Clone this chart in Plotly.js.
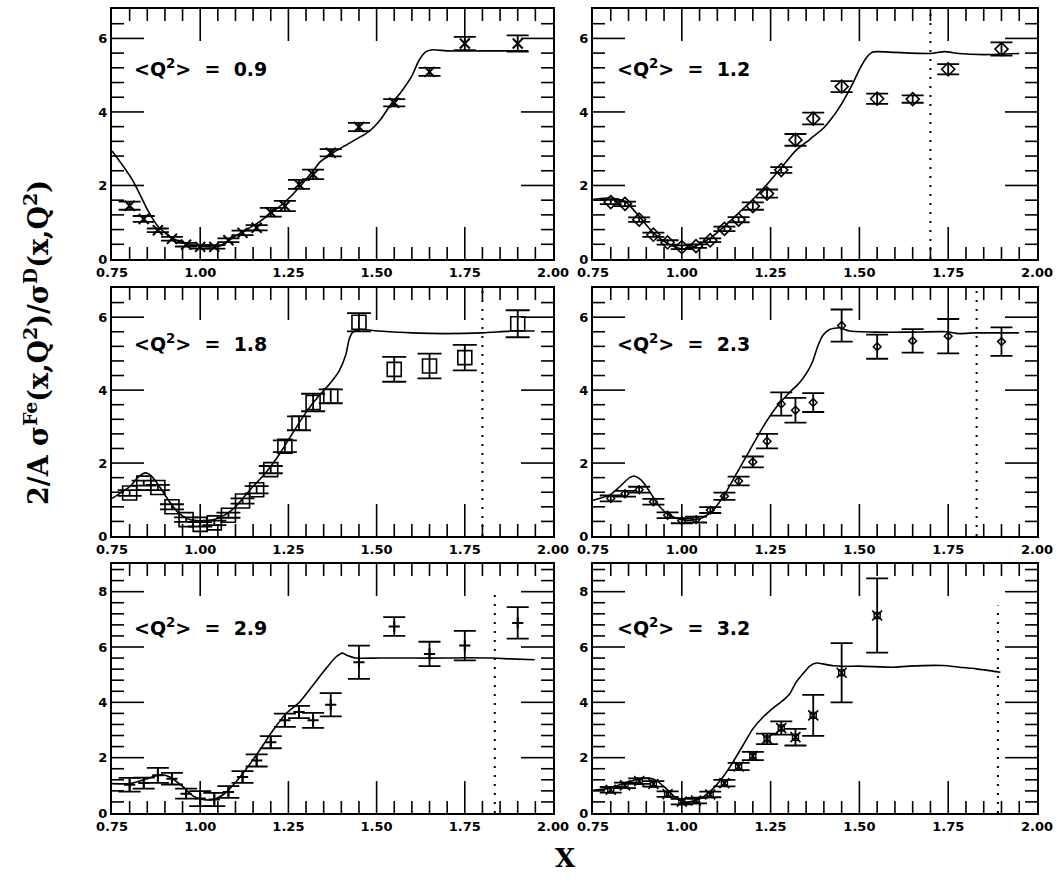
<!DOCTYPE html>
<html><head><meta charset="utf-8">
<script src="https://cdn.plot.ly/plotly-3.0.1.min.js"></script>
<style>html,body{margin:0;padding:0;background:#fff}#chart{width:1057px;height:881px}</style>
</head><body><div id="chart"></div>
<script>
// ---------- data ----------
const q2Labels = ["0.9", "1.2", "1.8", "2.3", "2.9", "3.2"];
const xBins = [0.80,0.84,0.88,0.92,0.96,1.00,1.04,1.08,1.12,1.16,1.20,1.24,1.28,1.32,1.37,1.45,1.55,1.65,1.75,1.90];
const xBins6 = [0.80,0.84,0.88,0.92,0.96,1.00,1.04,1.08,1.12,1.16,1.20,1.24,1.28,1.32,1.37,1.45,1.55];

const y1 = [1.45,1.09,0.78,0.55,0.39,0.33,0.33,0.51,0.71,0.85,1.27,1.44,2.03,2.30,2.89,3.59,4.25,5.09,5.86,5.86];
const e1 = [0.11,0.08,0.05,0.05,0.05,0.05,0.05,0.05,0.06,0.07,0.12,0.14,0.12,0.13,0.10,0.11,0.10,0.11,0.18,0.22];
const y2 = [1.55,1.50,1.07,0.66,0.45,0.32,0.35,0.51,0.82,1.07,1.44,1.78,2.42,3.24,3.82,4.69,4.36,4.35,5.16,5.71];
const e2 = [0.06,0.06,0.06,0.06,0.06,0.05,0.05,0.05,0.06,0.07,0.10,0.11,0.08,0.16,0.16,0.15,0.14,0.10,0.14,0.18];
const y3 = [1.18,1.45,1.33,0.80,0.45,0.32,0.36,0.57,0.96,1.27,1.82,2.46,3.09,3.66,3.83,5.86,4.57,4.66,4.89,5.82];
const e3 = [0.08,0.07,0.07,0.07,0.06,0.06,0.06,0.07,0.07,0.10,0.10,0.16,0.19,0.24,0.19,0.25,0.34,0.34,0.35,0.37];
const y4 = [1.03,1.16,1.27,0.94,0.57,0.42,0.45,0.71,1.09,1.51,2.03,2.60,3.62,3.45,3.66,5.77,5.19,5.35,5.48,5.33];
const e4 = [0.08,0.08,0.08,0.08,0.08,0.07,0.08,0.08,0.10,0.12,0.15,0.20,0.32,0.34,0.26,0.44,0.33,0.32,0.47,0.39];
const y5 = [1.02,1.08,1.36,1.24,0.70,0.52,0.49,0.76,1.30,1.90,2.56,3.35,3.65,3.35,3.91,5.45,6.74,5.75,6.05,6.87];
const e5 = [0.25,0.20,0.27,0.21,0.18,0.27,0.24,0.21,0.21,0.22,0.22,0.24,0.22,0.27,0.42,0.60,0.34,0.44,0.53,0.57];
const y6 = [0.84,1.00,1.15,1.05,0.68,0.41,0.45,0.67,1.08,1.68,2.06,2.68,3.07,2.74,3.53,5.07,7.14];
const e6 = [0.10,0.10,0.10,0.10,0.10,0.10,0.10,0.10,0.12,0.13,0.15,0.19,0.24,0.30,0.74,1.07,1.34];

// model curves
const cx1 = [0.75,0.78,0.81,0.85,0.88,0.92,0.96,1.00,1.04,1.06,1.08,1.12,1.16,1.20,1.24,1.28,1.32,1.34,1.38,1.41,1.45,1.48,1.51,1.54,1.57,1.60,1.62,1.64,1.66,1.70,1.80,1.93];
const cy1 = [2.94,2.55,2.12,1.35,0.89,0.57,0.41,0.35,0.33,0.37,0.50,0.74,0.96,1.24,1.55,1.94,2.40,2.64,2.91,3.08,3.30,3.48,3.78,4.20,4.55,4.98,5.40,5.64,5.69,5.66,5.66,5.66];
const cx2 = [0.75,0.80,0.84,0.88,0.92,0.96,1.00,1.04,1.08,1.12,1.16,1.20,1.24,1.28,1.32,1.36,1.40,1.42,1.44,1.46,1.48,1.50,1.52,1.535,1.55,1.60,1.70,1.74,1.78,1.85,1.95];
const cy2 = [1.62,1.66,1.57,1.16,0.71,0.42,0.27,0.36,0.57,0.89,1.25,1.62,2.03,2.48,2.94,3.25,3.57,3.80,4.07,4.39,4.75,5.15,5.48,5.62,5.64,5.62,5.59,5.64,5.59,5.56,5.59];
const cx3 = [0.75,0.80,0.825,0.845,0.86,0.885,0.915,0.94,0.97,1.00,1.04,1.074,1.10,1.14,1.187,1.225,1.262,1.30,1.337,1.366,1.394,1.413,1.422,1.431,1.45,1.507,1.60,1.695,1.80,1.883,1.948];
const cy3 = [1.03,1.35,1.62,1.73,1.66,1.35,0.91,0.62,0.45,0.42,0.45,0.60,0.80,1.25,1.75,2.25,2.82,3.39,3.85,4.16,4.53,4.98,5.39,5.57,5.66,5.62,5.57,5.55,5.57,5.62,5.62];
const cx4 = [0.75,0.797,0.825,0.853,0.867,0.886,0.91,0.938,0.966,1.00,1.03,1.06,1.088,1.116,1.154,1.19,1.228,1.266,1.304,1.332,1.355,1.369,1.383,1.398,1.416,1.444,1.473,1.548,1.64,1.745,1.78,1.827,1.876,1.949];
const cy4 = [0.98,1.12,1.35,1.60,1.64,1.53,1.21,0.80,0.57,0.45,0.44,0.51,0.71,1.07,1.71,2.33,2.98,3.53,3.94,4.21,4.53,4.80,5.21,5.51,5.66,5.71,5.62,5.59,5.59,5.60,5.55,5.57,5.57,5.57];
const cx5 = [0.75,0.80,0.85,0.886,0.914,0.952,0.98,1.008,1.037,1.065,1.093,1.131,1.168,1.206,1.243,1.281,1.319,1.356,1.384,1.403,1.417,1.44,1.507,1.60,1.70,1.751,1.83,1.88,1.948];
const cy5 = [1.06,1.06,1.24,1.38,1.30,0.94,0.61,0.49,0.49,0.66,1.00,1.60,2.26,2.98,3.59,4.00,4.61,5.21,5.63,5.78,5.69,5.60,5.60,5.60,5.60,5.61,5.60,5.57,5.54];
const cx6 = [0.75,0.797,0.844,0.881,0.905,0.928,0.956,0.985,1.008,1.03,1.06,1.088,1.116,1.144,1.172,1.20,1.229,1.257,1.285,1.304,1.322,1.341,1.36,1.379,1.397,1.426,1.454,1.50,1.595,1.64,1.735,1.782,1.829,1.897];
const cy6 = [0.82,0.90,1.10,1.24,1.26,1.18,0.88,0.52,0.40,0.42,0.58,0.88,1.30,1.84,2.44,3.04,3.47,3.79,4.07,4.31,4.73,5.03,5.31,5.42,5.39,5.32,5.30,5.31,5.27,5.31,5.33,5.27,5.21,5.09];

// kinematic limit (dotted line) per panel
const cutX = [null, 1.70, 1.80, 1.83, 1.835, 1.89];
const cutTop = [null, 6.8, 6.8, 6.8, 8.0, 7.5];
const yMax = [6.8, 6.8, 6.8, 6.8, 9, 9];

// ---------- build ----------
const W = 1057, H = 881;
const X0 = 0.75, X1 = 2.0;
const colPx = [[112, 553], [593, 1037]];
const rowPx = [[9, 259], [288, 536], [564, 813]];
const xs = [xBins, xBins, xBins, xBins, xBins, xBins6];
const ys = [y1, y2, y3, y4, y5, y6];
const es = [e1, e2, e3, e4, e5, e6];
const cxs = [cx1, cx2, cx3, cx4, cx5, cx6];
const cys = [cy1, cy2, cy3, cy4, cy5, cy6];
const markers = [
  {symbol: 'x-thin', size: 10, line: {width: 2, color: 'black'}, color: 'black'},
  {symbol: 'diamond-open', size: 10, line: {width: 1.6, color: 'black'}, color: 'black'},
  {symbol: 'square-open', size: 14, line: {width: 1.6, color: 'black'}, color: 'black'},
  {symbol: 'diamond-open', size: 6, line: {width: 1.5, color: 'black'}, color: 'black'},
  {symbol: 'cross-thin', size: 8, line: {width: 2, color: 'black'}, color: 'black'},
  {symbol: 'x-thin', size: 10, line: {width: 1.6, color: 'black'}, color: 'black'}
];
const capW = [11, 11, 12, 11, 11, 11];
const MAJ = 32, MIN = 12;

const data = [];
const annots = [];
const layout = {width: W, height: H, margin: {l: 0, r: 0, t: 0, b: 0}, showlegend: false};
const tickFont = {family: 'DejaVu Sans', size: 13, weight: 'bold', color: 'black'};

for (let i = 0; i < 6; i++) {
  const r = Math.floor(i / 2), c = i % 2;
  const n = i + 1;
  const xa = 'x' + (n === 1 ? '' : n), ya = 'y' + (n === 1 ? '' : n);
  const xKey = 'xaxis' + (n === 1 ? '' : n), yKey = 'yaxis' + (n === 1 ? '' : n);
  const wPx = colPx[c][1] - colPx[c][0], hPx = rowPx[r][1] - rowPx[r][0];
  layout[xKey] = {
    domain: [colPx[c][0] / W, colPx[c][1] / W], anchor: ya,
    range: [X0, X1], tick0: 0.75, dtick: 0.25, tickformat: '.2f', ticks: '',
    showline: true, linewidth: 2.2, linecolor: 'black', mirror: true,
    showgrid: false, zeroline: false, tickfont: tickFont, fixedrange: true
  };
  layout[yKey] = {
    domain: [1 - rowPx[r][1] / H, 1 - rowPx[r][0] / H], anchor: xa,
    range: [0, yMax[i]], tick0: 0, dtick: 2, tickformat: 'd', ticks: '',
    showline: true, linewidth: 2.2, linecolor: 'black', mirror: true,
    showgrid: false, zeroline: false, tickfont: tickFont, fixedrange: true
  };
  // inside tick marks on all four sides, drawn as one line trace per panel
  const tx = [], ty = [];
  const yPerPx = yMax[i] / hPx, xPerPx = (X1 - X0) / wPx;
  for (let k = 1; k < 25; k++) {
    const v = X0 + 0.05 * k;
    const L = (k % 5 === 0 ? MAJ : MIN) * yPerPx;
    tx.push(v, v, null, v, v, null);
    ty.push(0, L, null, yMax[i], yMax[i] - L, null);
  }
  for (let k = 1; 0.4 * k < yMax[i] - 1e-9; k++) {
    const v = 0.4 * k;
    const L = (k % 5 === 0 ? MAJ : MIN) * xPerPx;
    tx.push(X0, X0 + L, null, X1, X1 - L, null);
    ty.push(v, v, null, v, v, null);
  }
  data.push({x: tx, y: ty, xaxis: xa, yaxis: ya, mode: 'lines', type: 'scatter',
    line: {color: 'black', width: 1.6}, connectgaps: false, hoverinfo: 'skip'});
  // model curve
  data.push({x: cxs[i], y: cys[i], xaxis: xa, yaxis: ya, mode: 'lines', type: 'scatter',
    line: {color: 'black', width: 1.6, shape: 'spline', smoothing: 0.6}});
  // kinematic limit
  if (cutX[i] !== null) {
    data.push({x: [cutX[i], cutX[i]], y: [0, cutTop[i]], xaxis: xa, yaxis: ya, mode: 'lines', type: 'scatter',
      line: {color: 'black', width: 2, dash: '2px,7px'}});
  }
  // data points
  data.push({x: xs[i], y: ys[i], xaxis: xa, yaxis: ya, mode: 'markers', type: 'scatter',
    marker: markers[i],
    error_y: {type: 'data', array: es[i], visible: true, color: 'black', thickness: 1.8, width: capW[i]}});
  if (i === 5) {
    data.push({x: xs[i], y: ys[i], xaxis: xa, yaxis: ya, mode: 'markers', type: 'scatter',
      marker: {symbol: 'square-open', size: 6, line: {width: 1.4, color: 'black'}, color: 'black'}});
  }
  // Q2 label
  annots.push({
    xref: xa + ' domain', yref: ya + ' domain', x: c === 0 ? 0.045 : 0.05, y: r === 0 ? 0.764 : (r === 1 ? 0.778 : 0.747),
    xanchor: 'left', yanchor: 'middle', showarrow: false,
    text: '&lt;Q<sup>2</sup>&gt;\u00A0\u00A0=\u00A0\u00A0' + q2Labels[i],
    font: {family: 'DejaVu Sans', size: 19, weight: 'bold', color: 'black'}
  });
}
// axis titles
annots.push({
  xref: 'paper', yref: 'paper', x: 37 / W, y: 1 - 343 / H, xanchor: 'center', yanchor: 'middle',
  showarrow: false, textangle: -90,
  text: '2/A \u03c3<sup>Fe</sup>(x,Q<sup>2</sup>)/\u03c3<sup>D</sup>(x,Q<sup>2</sup>)',
  font: {family: 'DejaVu Serif', size: 27, weight: 'bold', color: 'black'}
});
annots.push({
  xref: 'paper', yref: 'paper', x: 565 / W, y: 1 - 858 / H, xanchor: 'center', yanchor: 'middle',
  showarrow: false, text: 'X',
  font: {family: 'DejaVu Serif', size: 26, weight: 'bold', color: 'black'}
});
layout.annotations = annots;

Plotly.newPlot('chart', data, layout, {staticPlot: true});
</script></body></html>
